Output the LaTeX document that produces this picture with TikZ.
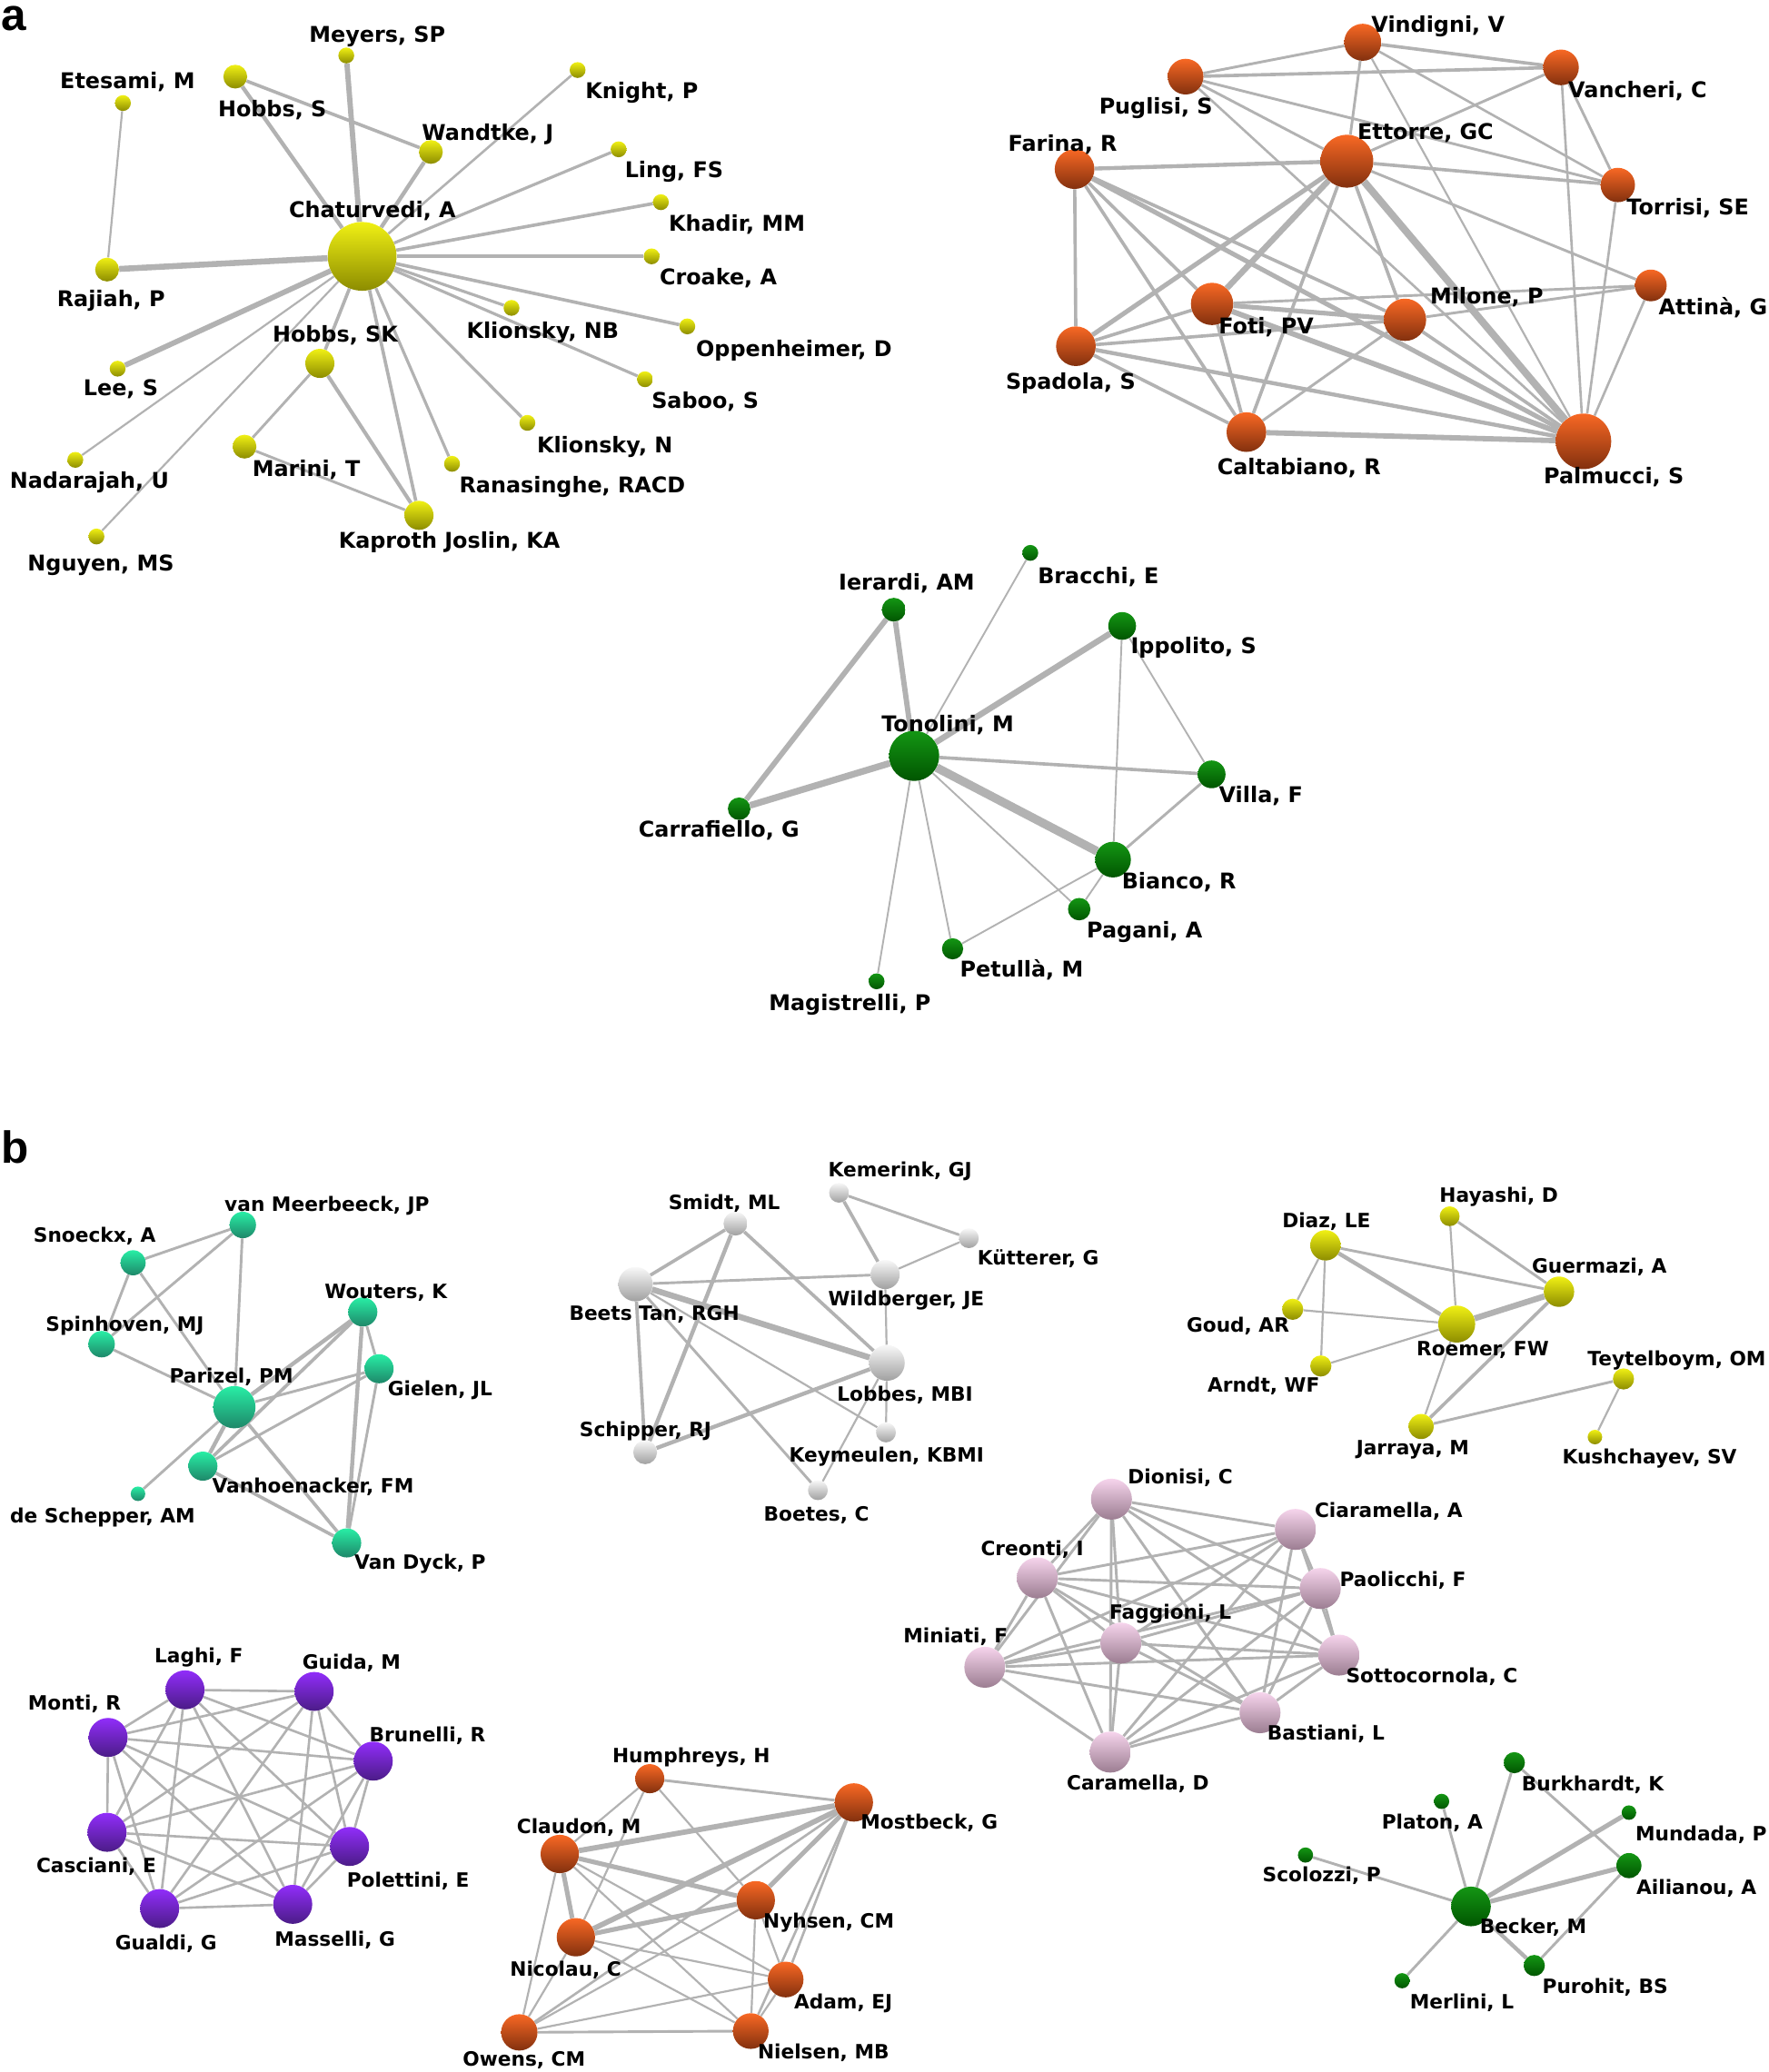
\documentclass[tikz,border=0pt]{standalone}
\usepackage{fontspec}
\setmainfont{DejaVu Sans}
\newfontfamily\letterfont{Liberation Sans}
\usepackage{xcolor}
\usepackage{tikz}

\definecolor{edgegray}{RGB}{178,178,178}
\definecolor{ylwTop}{RGB}{240,240,20}
\definecolor{ylwBot}{RGB}{140,140,0}
\definecolor{orgTop}{RGB}{248,104,36}
\definecolor{orgBot}{RGB}{130,48,14}
\definecolor{grnTop}{RGB}{20,150,20}
\definecolor{grnBot}{RGB}{0,85,0}
\definecolor{tealTop}{RGB}{40,238,165}
\definecolor{tealBot}{RGB}{30,135,105}
\definecolor{gryTop}{RGB}{248,248,248}
\definecolor{gryBot}{RGB}{160,160,160}
\definecolor{pnkTop}{RGB}{246,212,236}
\definecolor{pnkBot}{RGB}{155,125,145}
\definecolor{prpTop}{RGB}{145,45,250}
\definecolor{prpBot}{RGB}{75,28,135}

\pgfdeclarelayer{back}
\pgfdeclarelayer{edges}
\pgfsetlayers{back,edges,main}

\begin{document}
\begin{tikzpicture}[x=1pt, y=-1pt,
    authnode/.style={circle, inner sep=0pt, minimum size=#1},
    ylw/.style={authnode=#1, top color=ylwTop, bottom color=ylwBot},
    org/.style={authnode=#1, top color=orgTop, bottom color=orgBot},
    grn/.style={authnode=#1, top color=grnTop, bottom color=grnBot},
    teal/.style={authnode=#1, top color=tealTop, bottom color=tealBot},
    gry/.style={authnode=#1, top color=gryTop, bottom color=gryBot},
    pnk/.style={authnode=#1, top color=pnkTop, bottom color=pnkBot},
    prp/.style={authnode=#1, top color=prpTop, bottom color=prpBot},
    labA/.style={font=\fontsize{16.4}{18}\selectfont\bfseries, inner sep=0pt, anchor=mid, yshift=-3.5pt},
    labB/.style={font=\fontsize{14.9}{17}\selectfont\bfseries, inner sep=0pt, anchor=mid, yshift=-3.5pt},
    panel/.style={font=\fontsize{34}{36}\selectfont\letterfont\bfseries, inner sep=0pt, anchor=base west},
    lnk/.style={draw=edgegray, line width=#1},
    lnk/.default=2
  ]
  \begin{pgfonlayer}{back}
    \fill[white] (0,0) rectangle (1338,1568);
  \end{pgfonlayer}
  \useasboundingbox (0,0) rectangle (1338,1568);

  % panel letters
  \node[panel] (pa) at (0.5,23) {a};
  \node[panel] (pb) at (0.5,880) {b};

  % ---- a: yellow group
  \node[ylw=52] (chat) at (274,194) {};
  \node[ylw=12] (meyers) at (262,42) {};
  \node[ylw=12] (etesami) at (93,78) {};
  \node[ylw=18] (hobbss) at (178,58) {};
  \node[ylw=12] (knight) at (437,53) {};
  \node[ylw=18] (wandtke) at (326,115) {};
  \node[ylw=12] (ling) at (468,113) {};
  \node[ylw=12] (khadir) at (500,153) {};
  \node[ylw=12] (croake) at (493,194) {};
  \node[ylw=18] (rajiah) at (81,204) {};
  \node[ylw=12] (klionnb) at (387,233) {};
  \node[ylw=12] (oppen) at (520,247) {};
  \node[ylw=22] (hobbssk) at (242,275) {};
  \node[ylw=12] (lee) at (89,279) {};
  \node[ylw=12] (saboo) at (488,287) {};
  \node[ylw=12] (klionn) at (399,320) {};
  \node[ylw=12] (nadar) at (57,348) {};
  \node[ylw=18] (marini) at (185,338) {};
  \node[ylw=12] (ranas) at (342,351) {};
  \node[ylw=22] (kaproth) at (317,390) {};
  \node[ylw=12] (nguyen) at (73,406) {};

  \node[labA] (l-meyers) at (285.5,25.7) {Meyers, SP};
  \node[labA] (l-etesami) at (96.5,60.7) {Etesami, M};
  \node[labA] (l-hobbss) at (206,81.8) {Hobbs, S};
  \node[labA] (l-knight) at (485.6,68.4) {Knight, P};
  \node[labA] (l-wandtke) at (369,100) {Wandtke, J};
  \node[labA] (l-ling) at (510,128.3) {Ling, FS};
  \node[labA] (l-chat) at (281.7,158.2) {Chaturvedi, A};
  \node[labA] (l-khadir) at (557.5,169) {Khadir, MM};
  \node[labA] (l-croake) at (543.4,209.5) {Croake, A};
  \node[labA] (l-rajiah) at (84,225.8) {Rajiah, P};
  \node[labA] (l-klionnb) at (410.6,250) {Klionsky, NB};
  \node[labA] (l-oppen) at (600.7,263.7) {Oppenheimer, D};
  \node[labA] (l-hobbssk) at (253.6,252.9) {Hobbs, SK};
  \node[labA] (l-lee) at (91.4,292.8) {Lee, S};
  \node[labA] (l-saboo) at (533.5,302.8) {Saboo, S};
  \node[labA] (l-klionn) at (457.6,336.4) {Klionsky, N};
  \node[labA] (l-nadar) at (67.6,363.5) {Nadarajah, U};
  \node[labA] (l-marini) at (231.7,354.4) {Marini, T};
  \node[labA] (l-ranas) at (433,367) {Ranasinghe, RACD};
  \node[labA] (l-kaproth) at (340,408.3) {Kaproth Joslin, KA};
  \node[labA] (l-nguyen) at (76.3,426) {Nguyen, MS};

  % ---- a: orange group
  \node[org=28] (vindigni) at (1031,32) {};
  \node[org=27] (puglisi) at (897,58) {};
  \node[org=27] (vancheri) at (1181,51) {};
  \node[org=40] (ettorre) at (1019,122) {};
  \node[org=30] (farina) at (813,128) {};
  \node[org=26] (torrisi) at (1224,140) {};
  \node[org=24] (attina) at (1249,216) {};
  \node[org=32] (foti) at (917,230) {};
  \node[org=32] (milone) at (1063,242) {};
  \node[org=30] (spadola) at (814,262) {};
  \node[org=30] (caltab) at (943,327) {};
  \node[org=42] (palmucci) at (1198,334) {};

  \node[labA] (l-vindigni) at (1088,18.4) {Vindigni, V};
  \node[labA] (l-puglisi) at (874.5,79.8) {Puglisi, S};
  \node[labA] (l-vancheri) at (1239,67.5) {Vancheri, C};
  \node[labA] (l-ettorre) at (1078.5,99.5) {Ettorre, GC};
  \node[labA] (l-farina) at (804,108) {Farina, R};
  \node[labA] (l-torrisi) at (1277,156) {Torrisi, SE};
  \node[labA] (l-attina) at (1296,232) {Attinà, G};
  \node[labA] (l-milone) at (1124.8,223.5) {Milone, P};
  \node[labA] (l-foti) at (958,246.3) {Foti, PV};
  \node[labA] (l-spadola) at (810,288.6) {Spadola, S};
  \node[labA] (l-caltab) at (982.8,353.2) {Caltabiano, R};
  \node[labA] (l-palmucci) at (1221,359.8) {Palmucci, S};

  % ---- a: green group
  \node[grn=12] (bracchi) at (779.5,418.4) {};
  \node[grn=18] (ierardi) at (676.2,461.4) {};
  \node[grn=21] (ippolito) at (849,473.7) {};
  \node[grn=38] (tonolini) at (691.6,572) {};
  \node[grn=21] (villa) at (916.7,586) {};
  \node[grn=17] (carraf) at (559.2,612) {};
  \node[grn=27] (bianco) at (842.1,650.5) {};
  \node[grn=17] (pagani) at (816.5,688) {};
  \node[grn=16] (petulla) at (720.7,718) {};
  \node[grn=12] (magist) at (663.2,742.6) {};

  \node[labA] (l-bracchi) at (831,435.6) {Bracchi, E};
  \node[labA] (l-ierardi) at (686,440.5) {Ierardi, AM};
  \node[labA] (l-ippolito) at (903,488.4) {Ippolito, S};
  \node[labA] (l-tonolini) at (717,547.4) {Tonolini, M};
  \node[labA] (l-villa) at (954,601.4) {Villa, F};
  \node[labA] (l-carraf) at (544,627) {Carrafiello, G};
  \node[labA] (l-bianco) at (892,666.5) {Bianco, R};
  \node[labA] (l-pagani) at (866,703.4) {Pagani, A};
  \node[labA] (l-petulla) at (773,732.8) {Petullà, M};
  \node[labA] (l-magist) at (643,758.6) {Magistrelli, P};

  % ---- b: teal group
  \node[teal=20] (vanmeer) at (183.7,927) {};
  \node[teal=19] (snoeckx) at (100.7,955.6) {};
  \node[teal=22] (wouters) at (274.5,992.8) {};
  \node[teal=20] (spinh) at (76.9,1017.2) {};
  \node[teal=22] (gielen) at (286.8,1035.8) {};
  \node[teal=32] (parizel) at (177.3,1064.9) {};
  \node[teal=22] (vanhoen) at (153.5,1109.5) {};
  \node[teal=11] (deschep) at (104.4,1130.4) {};
  \node[teal=22] (vandyck) at (262.3,1167.6) {};

  \node[labB] (l-vanmeer) at (247.4,910.3) {van Meerbeeck, JP};
  \node[labB] (l-snoeckx) at (71.6,934) {Snoeckx, A};
  \node[labB] (l-wouters) at (292,976.5) {Wouters, K};
  \node[labB] (l-spinh) at (94.5,1001.4) {Spinhoven, MJ};
  \node[labB] (l-parizel) at (175,1040.5) {Parizel, PM};
  \node[labB] (l-gielen) at (333,1050.2) {Gielen, JL};
  \node[labB] (l-vanhoen) at (236.8,1123.4) {Vanhoenacker, FM};
  \node[labB] (l-deschep) at (77.6,1146) {de Schepper, AM};
  \node[labB] (l-vandyck) at (317.8,1181.5) {Van Dyck, P};

  % ---- b: grey group
  \node[gry=15] (kemerink) at (634.8,902.6) {};
  \node[gry=18] (smidt) at (556.4,926) {};
  \node[gry=15] (kutterer) at (733,937) {};
  \node[gry=26] (beets) at (480.8,971.8) {};
  \node[gry=22] (wildb) at (669.7,964.5) {};
  \node[gry=27] (lobbes) at (671,1031.4) {};
  \node[gry=15] (keymeul) at (670.3,1084) {};
  \node[gry=18] (schipper) at (488.1,1099) {};
  \node[gry=15] (boetes) at (618.8,1127.7) {};

  \node[labB] (l-kemerink) at (681,884.3) {Kemerink, GJ};
  \node[labB] (l-smidt) at (548,908.8) {Smidt, ML};
  \node[labB] (l-kutterer) at (785.5,951) {Kütterer, G};
  \node[labB] (l-wildb) at (685.6,981.7) {Wildberger, JE};
  \node[labB] (l-beets) at (495,993.1) {Beets Tan, RGH};
  \node[labB] (l-lobbes) at (684.7,1053.9) {Lobbes, MBI};
  \node[labB] (l-schipper) at (488.4,1080.7) {Schipper, RJ};
  \node[labB] (l-keymeul) at (670.8,1100.2) {Keymeulen, KBMI};
  \node[labB] (l-boetes) at (617.7,1144.8) {Boetes, C};

  % ---- b: yellow group
  \node[ylw=15] (hayashi) at (1096.8,920.4) {};
  \node[ylw=23] (diaz) at (1002.8,942.4) {};
  \node[ylw=23] (guermazi) at (1179.5,977.5) {};
  \node[ylw=16] (goud) at (978,990.8) {};
  \node[ylw=28] (roemer) at (1102.1,1002) {};
  \node[ylw=16] (arndt) at (999.3,1033.7) {};
  \node[ylw=16] (teytel) at (1228.3,1043.5) {};
  \node[ylw=19] (jarraya) at (1075.2,1079.5) {};
  \node[ylw=11] (kushch) at (1206.7,1087.5) {};

  \node[labB] (l-hayashi) at (1134,903.7) {Hayashi, D};
  \node[labB] (l-diaz) at (1003.5,922.5) {Diaz, LE};
  \node[labB] (l-guermazi) at (1210,956.9) {Guermazi, A};
  \node[labB] (l-goud) at (936.6,1002) {Goud, AR};
  \node[labB] (l-roemer) at (1121.8,1019.5) {Roemer, FW};
  \node[labB] (l-teytel) at (1268.6,1027.5) {Teytelboym, OM};
  \node[labB] (l-arndt) at (956,1047) {Arndt, WF};
  \node[labB] (l-jarraya) at (1068.8,1094.4) {Jarraya, M};
  \node[labB] (l-kushch) at (1248,1101.3) {Kushchayev, SV};

  % ---- b: pink group
  \node[pnk=31] (dionisi) at (840.9,1134.5) {};
  \node[pnk=31] (ciaram) at (980.1,1157.4) {};
  \node[pnk=31] (creonti) at (784.8,1194.1) {};
  \node[pnk=31] (paolic) at (998.9,1202.1) {};
  \node[pnk=31] (faggioni) at (848,1243.4) {};
  \node[pnk=31] (miniati) at (745.1,1261.7) {};
  \node[pnk=31] (sottoc) at (1013,1252.5) {};
  \node[pnk=31] (bastiani) at (953.3,1296.1) {};
  \node[pnk=31] (caramella) at (840,1325.9) {};

  \node[labB] (l-dionisi) at (893,1116.6) {Dionisi, C};
  \node[labB] (l-ciaram) at (1050.6,1141.8) {Ciaramella, A};
  \node[labB] (l-creonti) at (781,1170.7) {Creonti, I};
  \node[labB] (l-paolic) at (1061.4,1194) {Paolicchi, F};
  \node[labB] (l-faggioni) at (885.5,1218.8) {Faggioni, L};
  \node[labB] (l-miniati) at (723,1237) {Miniati, F};
  \node[labB] (l-sottoc) at (1083.3,1267.4) {Sottocornola, C};
  \node[labB] (l-bastiani) at (1003.2,1310.5) {Bastiani, L};
  \node[labB] (l-caramella) at (860.9,1348.1) {Caramella, D};

  % ---- b: purple group
  \node[prp=29.5] (laghi) at (140,1278.8) {};
  \node[prp=29.5] (guida) at (237.7,1280) {};
  \node[prp=29.5] (monti) at (81.8,1314.8) {};
  \node[prp=29.5] (brunelli) at (282.4,1332.7) {};
  \node[prp=29.5] (casciani) at (81,1386.6) {};
  \node[prp=29.5] (polettini) at (264.5,1397.3) {};
  \node[prp=29.5] (gualdi) at (120.8,1444.3) {};
  \node[prp=29.5] (masselli) at (221.5,1441.1) {};

  \node[labB] (l-laghi) at (150.4,1252) {Laghi, F};
  \node[labB] (l-guida) at (266,1256.6) {Guida, M};
  \node[labB] (l-monti) at (56.3,1288) {Monti, R};
  \node[labB] (l-brunelli) at (323.4,1311.6) {Brunelli, R};
  \node[labB] (l-casciani) at (72.8,1410.6) {Casciani, E};
  \node[labB] (l-polettini) at (308.7,1421.6) {Polettini, E};
  \node[labB] (l-gualdi) at (125.6,1469) {Gualdi, G};
  \node[labB] (l-masselli) at (253.4,1466.8) {Masselli, G};

  % ---- b: orange group
  \node[org=22] (humph) at (491.6,1346) {};
  \node[org=29] (mostb) at (646,1364) {};
  \node[org=29] (claudon) at (423.5,1403) {};
  \node[org=29] (nyhsen) at (571.8,1438) {};
  \node[org=29] (nicolau) at (435.7,1466) {};
  \node[org=27] (adam) at (594.4,1498) {};
  \node[org=27.5] (owens) at (392.9,1538) {};
  \node[org=27] (nielsen) at (568,1537) {};

  \node[labB] (l-humph) at (523,1328) {Humphreys, H};
  \node[labB] (l-mostb) at (703,1378) {Mostbeck, G};
  \node[labB] (l-claudon) at (438,1381.6) {Claudon, M};
  \node[labB] (l-nyhsen) at (627,1453) {Nyhsen, CM};
  \node[labB] (l-nicolau) at (428,1489) {Nicolau, C};
  \node[labB] (l-adam) at (638,1514) {Adam, EJ};
  \node[labB] (l-owens) at (396.5,1557) {Owens, CM};
  \node[labB] (l-nielsen) at (623,1552) {Nielsen, MB};

  % ---- b: green group
  \node[grn=16] (burkh) at (1145.7,1333.9) {};
  \node[grn=11.5] (platon) at (1090.7,1363.2) {};
  \node[grn=11] (mundada) at (1232.4,1371.7) {};
  \node[grn=11.5] (scolozzi) at (987.7,1403.8) {};
  \node[grn=19] (ailianou) at (1232.4,1411.8) {};
  \node[grn=30] (becker) at (1112.9,1442.7) {};
  \node[grn=16] (purohit) at (1160.8,1487.4) {};
  \node[grn=11.5] (merlini) at (1060.8,1498.9) {};

  \node[labB] (l-burkh) at (1205,1348.8) {Burkhardt, K};
  \node[labB] (l-platon) at (1083.6,1377.9) {Platon, A};
  \node[labB] (l-mundada) at (1287,1386.6) {Mundada, P};
  \node[labB] (l-scolozzi) at (1000,1418) {Scolozzi, P};
  \node[labB] (l-ailianou) at (1283.5,1427.2) {Ailianou, A};
  \node[labB] (l-becker) at (1160,1457.2) {Becker, M};
  \node[labB] (l-purohit) at (1214.4,1502.3) {Purohit, BS};
  \node[labB] (l-merlini) at (1106,1513.8) {Merlini, L};

  % co-authorship links, behind the nodes
  \begin{pgfonlayer}{edges}
    \foreach \a/\b/\w in {chat/meyers/4, chat/hobbss/3, hobbss/wandtke/2.5, chat/wandtke/3,
        chat/knight/1.8, chat/ling/2.2, chat/khadir/2.5, chat/croake/2.5, chat/rajiah/4.5,
        etesami/rajiah/1.5, chat/klionnb/2.2, chat/oppen/2.5, chat/saboo/2.2, chat/klionn/2.2,
        chat/lee/4, chat/nadar/1.5, chat/nguyen/1.5, chat/hobbssk/2.5, chat/ranas/2.2,
        chat/kaproth/2.5, hobbssk/marini/2, hobbssk/kaproth/2.8, marini/kaproth/2}
      \draw[lnk=\w] (\a) -- (\b);
    \foreach \a/\b/\w in {vindigni/puglisi/2, vindigni/vancheri/2.5, vindigni/ettorre/2,
        vindigni/torrisi/1.8, vindigni/palmucci/1.5, puglisi/vancheri/2.5, puglisi/ettorre/2,
        puglisi/torrisi/2, puglisi/palmucci/1.8, vancheri/ettorre/2, vancheri/torrisi/2,
        vancheri/palmucci/1.8, ettorre/farina/3, ettorre/torrisi/2.5, ettorre/attina/2,
        ettorre/foti/4.5, ettorre/spadola/3.5, ettorre/caltab/2.5, ettorre/milone/2.5,
        ettorre/palmucci/5.5, torrisi/palmucci/1.8, attina/palmucci/1.8, farina/spadola/2.5,
        farina/foti/2.5, farina/caltab/2.5, farina/milone/2.5, farina/palmucci/3.5,
        foti/spadola/2.5, foti/milone/3.5, foti/attina/2, foti/caltab/2.5, foti/palmucci/4,
        milone/spadola/2.5, milone/attina/2, milone/caltab/2, milone/palmucci/2.5,
        spadola/caltab/2.5, spadola/palmucci/3, caltab/palmucci/4}
      \draw[lnk=\w] (\a) -- (\b);
    \foreach \a/\b/\w in {ierardi/tonolini/4, ierardi/carraf/4, carraf/tonolini/5,
        bracchi/tonolini/1.3, ippolito/tonolini/4.5, ippolito/bianco/1.3, ippolito/villa/1.3,
        tonolini/villa/2.5, tonolini/bianco/6.5, tonolini/pagani/1.3, tonolini/petulla/1.3,
        tonolini/magist/1.3, villa/bianco/2, bianco/pagani/1.3, bianco/petulla/1.3}
      \draw[lnk=\w] (\a) -- (\b);
    \foreach \a/\b/\w in {snoeckx/vanmeer/2, snoeckx/spinh/2, snoeckx/parizel/2,
        vanmeer/spinh/2, vanmeer/parizel/2, spinh/parizel/2, wouters/parizel/3,
        wouters/vanhoen/2.5, wouters/gielen/2, wouters/vandyck/3, gielen/parizel/2,
        gielen/vanhoen/2, gielen/vandyck/2, parizel/vanhoen/3, parizel/deschep/2,
        parizel/vandyck/2.5, vanhoen/vandyck/2.5}
      \draw[lnk=\w] (\a) -- (\b);
    \foreach \a/\b/\w in {kemerink/kutterer/2, kemerink/wildb/2.5, kutterer/wildb/1.5,
        smidt/beets/2.5, smidt/schipper/3, smidt/lobbes/2.5, beets/wildb/2, beets/lobbes/4.5,
        beets/schipper/2.5, beets/keymeul/1.5, beets/boetes/2, wildb/lobbes/1.5,
        lobbes/schipper/3, lobbes/keymeul/1.5, lobbes/boetes/1.5}
      \draw[lnk=\w] (\a) -- (\b);
    \foreach \a/\b/\w in {hayashi/roemer/1.5, hayashi/guermazi/2, diaz/guermazi/2,
        diaz/roemer/3, diaz/goud/1.5, diaz/arndt/1.5, goud/roemer/1.5, arndt/roemer/1.5,
        roemer/guermazi/4.5, guermazi/jarraya/2.5, roemer/jarraya/1.5, jarraya/teytel/2,
        teytel/kushch/1.5}
      \draw[lnk=\w] (\a) -- (\b);
    % pink and purple groups: everybody with everybody
    \foreach \a [count=\i] in {dionisi,ciaram,creonti,paolic,faggioni,miniati,sottoc,bastiani,caramella}
      \foreach \b [count=\j] in {dionisi,ciaram,creonti,paolic,faggioni,miniati,sottoc,bastiani,caramella}
        {\ifnum\j>\i \draw[lnk=2] (\a) -- (\b); \fi}
    \foreach \a [count=\i] in {laghi,guida,monti,brunelli,casciani,polettini,gualdi,masselli}
      \foreach \b [count=\j] in {laghi,guida,monti,brunelli,casciani,polettini,gualdi,masselli}
        {\ifnum\j>\i \draw[lnk=1.8] (\a) -- (\b); \fi}
    \foreach \a/\b/\w in {humph/mostb/2, humph/claudon/1.5, humph/nicolau/1.5, humph/nyhsen/1.5,
        mostb/claudon/4, mostb/nyhsen/3.5, mostb/nicolau/4, mostb/owens/1.8, mostb/adam/1.8,
        mostb/nielsen/1.8, claudon/nyhsen/3.5, claudon/nicolau/3.5, claudon/owens/1.5,
        claudon/adam/1.5, claudon/nielsen/1.5, nicolau/nyhsen/3.5, nicolau/adam/1.5,
        nicolau/nielsen/1.5, nicolau/owens/1.5, nyhsen/owens/1.5, nyhsen/adam/1.5,
        nyhsen/nielsen/1.5, adam/owens/1.5, adam/nielsen/1.5, owens/nielsen/2}
      \draw[lnk=\w] (\a) -- (\b);
    \foreach \a/\b/\w in {becker/burkh/2, becker/platon/2, becker/scolozzi/2,
        becker/mundada/3.5, becker/ailianou/3.5, becker/purohit/3, becker/merlini/2,
        burkh/ailianou/2, ailianou/purohit/2}
      \draw[lnk=\w] (\a) -- (\b);
  \end{pgfonlayer}
\end{tikzpicture}
\end{document}
